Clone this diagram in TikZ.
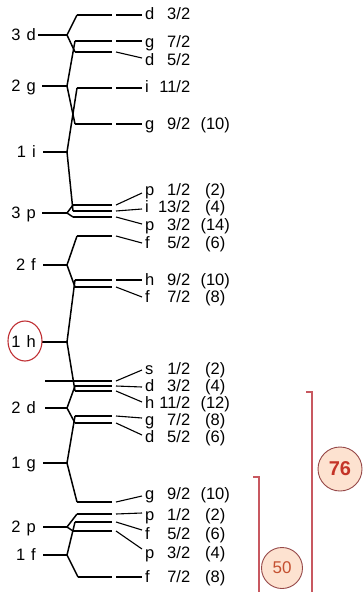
\documentclass[tikz,border=0pt]{standalone}
\usepackage{fontspec}
\setmainfont{Liberation Sans}
\definecolor{ringred}{RGB}{192,48,52}
\definecolor{brackred}{RGB}{200,88,96}
\definecolor{badgefill}{RGB}{253,226,208}
\definecolor{badgeline}{RGB}{150,72,72}
\definecolor{badgetext}{RGB}{196,52,40}
\definecolor{badgetextb}{RGB}{196,80,48}

% one right-hand label: letter, j value, occupancy
\newcommand\jl[3]{\makebox[12pt][l]{#1}\makebox[33pt][r]{#2}\hspace{9pt}\makebox[32pt]{#3}}

% split level: name, left x, y, connector end y, label y, letter, j, occupancy
\newcommand\lev[8]{%
  \coordinate (L#1) at (#2,#3);
  \coordinate (R#1) at (112,#3);
  \coordinate (C#1) at (116,#3);
  \coordinate (E#1) at (142,#4);
  \draw[lvl] (L#1) -- (R#1);
  \draw[conn] (C#1) -- (E#1);
  \node[lab] (T#1) at (145,#5) {\jl{#6}{#7}{#8}};
}
% unsplit level: name, text, y, stub start x
\newcommand\orb[4]{%
  \node[olab] (O#1) at (36,#3) {#2};
  \coordinate (S#1) at (#4,#3);
  \coordinate (J#1) at (67,#3);
  \draw[stub] (S#1) -- (J#1);
}

\begin{document}
\begin{tikzpicture}[x=1pt,y=-1pt,
  lvl/.style={line width=2.2pt},
  br/.style={line width=1.5pt,line join=round},
  stub/.style={line width=1.6pt},
  conn/.style={line width=1.1pt},
  lab/.style={anchor=west,inner sep=0pt,text height=11.6pt,text depth=0pt,
              font=\fontsize{16.5}{16.5}\selectfont},
  olab/.style={anchor=east,inner sep=0pt,text height=11.6pt,text depth=0pt,
              font=\fontsize{16.5}{16.5}\selectfont},
  brack/.style={line width=2pt,brackred},
  badge/.style={circle,inner sep=0pt,fill=badgefill,draw=badgeline,line width=0.9pt}]

\useasboundingbox (0,0) rectangle (362,592);
\fill[white] (0,0) rectangle (362,592);

\lev{d32a}{77}{15}{15}{14}{d}{3/2}{}
\lev{g72a}{75}{41}{41}{42}{g}{7/2}{}
\lev{d52a}{75}{52}{58}{60}{d}{5/2}{}
\lev{i112}{77}{88}{88}{87}{i}{11/2}{}
\lev{g92a}{75}{124}{124}{124}{g}{9/2}{(10)}
\lev{p12a}{73}{205}{193}{190}{p}{1/2}{(2)}
\lev{i132}{73}{211}{209}{207}{i}{13/2}{(4)}
\lev{p32a}{73}{217}{224}{225}{p}{3/2}{(14)}
\lev{f52a}{77}{236}{243}{243}{f}{5/2}{(6)}
\lev{h92}{75}{280}{280}{280}{h}{9/2}{(10)}
\lev{f72a}{75}{287}{297}{297}{f}{7/2}{(8)}
\lev{s12}{45}{381}{370}{369}{s}{1/2}{(2)}
\lev{d32b}{75}{386}{387}{386}{d}{3/2}{(4)}
\lev{h112}{75}{391}{402}{403}{h}{11/2}{(12)}
\lev{g72b}{75}{416}{418}{420}{g}{7/2}{(8)}
\lev{d52b}{75}{423}{435}{437}{d}{5/2}{(6)}
\lev{g92b}{77}{502}{496}{494}{g}{9/2}{(10)}
\lev{p12b}{77}{514}{513}{515}{p}{1/2}{(2)}
\lev{f52b}{75}{522}{530}{534}{f}{5/2}{(6)}
\lev{p32b}{73}{531}{549}{553}{p}{3/2}{(4)}
\lev{f72b}{78}{577}{577}{577}{f}{7/2}{(8)}

\orb{3d}{3\hspace{6pt}d}{35}{38}
\orb{2g}{2\hspace{6pt}g}{86}{42}
\orb{1i}{1\hspace{6pt}i}{152}{43}
\orb{3p}{3\hspace{6pt}p}{213}{42}
\orb{2f}{2\hspace{6pt}f}{265}{43}
\orb{1h}{1\hspace{6pt}h}{342}{42}
\orb{2d}{2\hspace{6pt}d}{408}{45}
\orb{1g}{1\hspace{6pt}g}{463}{43}
\orb{2p}{2\hspace{6pt}p}{527}{43}
\orb{1f}{1\hspace{6pt}f}{555}{43}

% spin-orbit branches
\draw[br] (J3d) -- (Ld32a);  \draw[br] (J3d) -- (Ld52a);
\draw[br] (J2g) -- (Lg72a);  \draw[br] (J2g) -- (Lg92a);
\draw[br] (J1i) -- (Li112);  \draw[br] (J1i) -- (Li132);
\draw[br] (J3p) -- (Lp12a);  \draw[br] (J3p) -- (Lp32a);
\draw[br] (J2f) -- (Lf52a);  \draw[br] (J2f) -- (Lf72a);
\draw[br] (J1h) -- (Lh92);   \draw[br] (J1h) -- (Lh112);
\draw[br] (J2d) -- (Ld32b);  \draw[br] (J2d) -- (Ld52b);
\draw[br] (J1g) -- (Lg72b);  \draw[br] (J1g) -- (Lg92b);
\draw[br] (J2p) -- (Lp12b);  \draw[br] (J2p) -- (Lp32b);
\draw[br] (J1f) -- (Lf52b);  \draw[br] (J1f) -- (Lf72b);

% ring round the 1h level
\draw[ringred,line width=1.1pt] (25,341) ellipse [x radius=17pt,y radius=20pt];

% magic-number brackets
\draw[brack] (253,477) -- (259,477) -- (259,592);
\draw[brack] (306,392) -- (312,392) -- (312,592);
\node[badge,minimum size=44pt,text=badgetext,font=\bfseries\fontsize{20}{20}\selectfont] (m76) at (340,469) {76};
\node[badge,minimum size=41pt,text=badgetextb,font=\fontsize{17}{17}\selectfont] (m50) at (282,568) {50};
\end{tikzpicture}
\end{document}
